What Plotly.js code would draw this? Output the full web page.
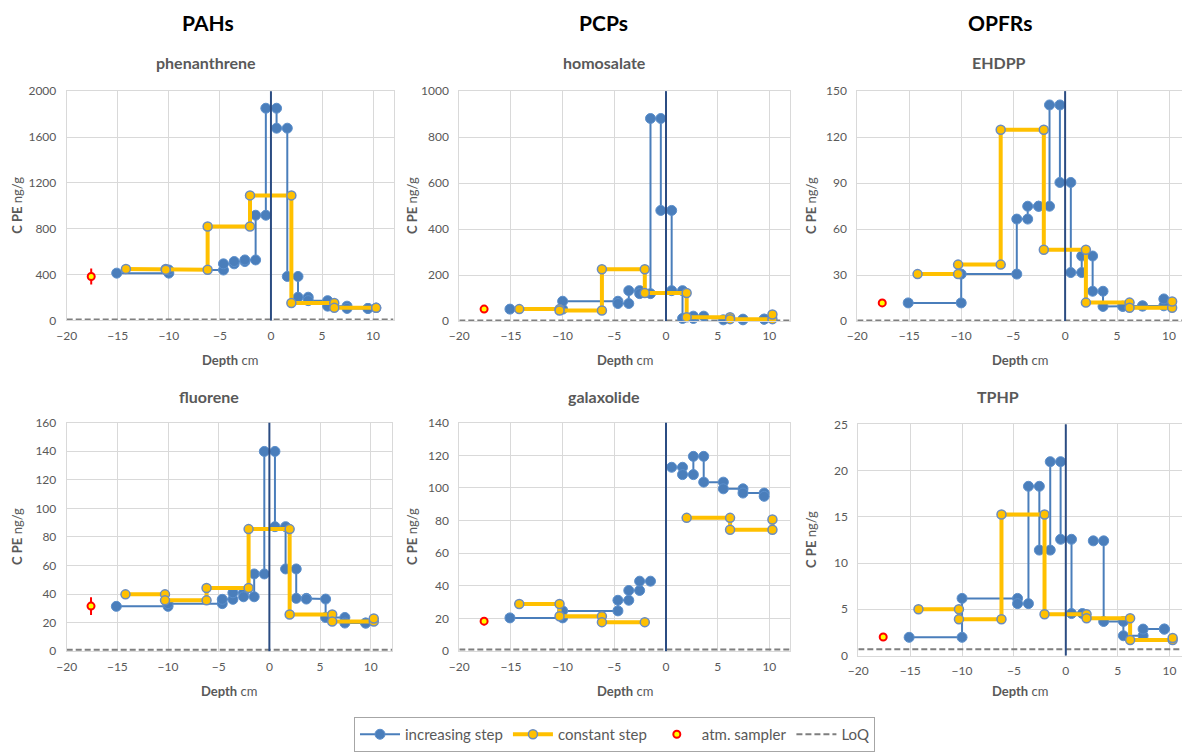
<!DOCTYPE html>
<html>
<head>
<meta charset="utf-8">
<script src="https://cdn.plot.ly/plotly-3.0.1.min.js"></script>
<style>html,body{margin:0;padding:0;background:#fff;}#chart{width:1182px;height:752px;}</style>
</head>
<body>
<div id="chart"></div>
<script>
// ---------------- DATA ----------------
const groupTitles = ["PAHs", "PCPs", "OPFRs"];
const panelTitles = ["phenanthrene", "homosalate", "EHDPP", "fluorene", "galaxolide", "TPHP"];

// depth boundaries of the sampled layers (cm)
const incEdges = [-15.1, -10, -4.65, -3.6, -2.55, -1.5, -0.5, 0.55, 1.6, 2.65, 3.65, 5.55, 7.45, 9.5];
const constEdges = [-14.2, -10.3, -6.2, -2.05, 2.0, 6.2, 10.3];

// increasing step: one value per layer, last entry = end point at deepest boundary
const phenInc = [413, 440, 494, 514, 528, 918, 1851, 1677, 384, 203, 173, 125, 105, 105];
const homoInc = [51.6, 86, 76, 132, 119, 881, 481, 132, 11, 21, -3, 5, 8, 8];
const ehdppInc = [11.8, 30.6, 66.5, 74.9, 74.9, 141, 90.4, 31.6, 42.4, 19.4, 9.5, 9.7, 9.9, 14.4];
const fluoInc = [31.4, 33.3, 36.3, 40.9, 38.1, 54.1, 139.9, 87.2, 57.6, 37.0, 36.5, 23.6, 19.7, 19.7];
const galaxInc = [20.4, 24.7, 31.2, 37.2, 42.9, null, null, 112.7, 108.2, 119.4, 103.6, 99.5, 96.9, 94.9];
const tphpInc = [1.97, 6.18, 5.61, 18.3, 11.4, 20.96, 12.57, 4.54, null, 12.4, 3.68, 2.14, 2.86, 2.86];

// constant step: one value per layer, last entry = end point
const phenConst = [450, 442, 820, 1091, 153, 110, 110];
const homoConst = [51.6, 46, 225, 122, 16, 8, 28];
const ehdppConst = [30.6, 36.8, 124.8, 46.5, 12.0, 8.6, 12.7];
const fluoConst = [39.8, 35.6, 44.2, 85.5, 25.7, 20.8, 22.9];
const galaxConst = [28.9, 21.4, 17.8, null, 81.7, 74.4, 80.7];
const tphpConst = [5.0, 3.93, 15.25, 4.46, 4.04, 1.68, 1.9];

// atmospheric sampler
const atmDepth = -17.6;
const atmValues = [384, 51.6, 11.8, 31.6, 18.4, 2.0];
const atmErrors = [70, 0, 0, 6.2, 2.5, 0];

// limit of quantification
const loqValues = [8, 2, 0.3, 1, 1, 0.68];

// sediment-water interface
const interfaceDepth = 0;

const xTicks = [-20, -15, -10, -5, 0, 5, 10];

// ---------------- LAYOUT SETTINGS ----------------
const W = 1182, H = 752;
const incSeries = [phenInc, homoInc, ehdppInc, fluoInc, galaxInc, tphpInc];
const constSeries = [phenConst, homoConst, ehdppConst, fluoConst, galaxConst, tphpConst];
const yRanges = [[0, 2000], [0, 1000], [0, 150], [0, 160], [0, 140], [0, 25]];
const yDticks = [400, 200, 30, 20, 20, 5];
const xRanges = [[-20, 12], [-20, 12], [-20, 11.25], [-20, 12.1], [-20, 12], [-20, 11.2]];
// plot-area pixel boxes [left, right, top, bottom]
const boxes = [
  [66.7, 393.5, 92, 323.5], [459.3, 790, 92, 324], [857.3, 1182, 92, 324],
  [66.7, 392, 426.7, 657.3], [459.3, 790, 426.7, 657.3], [858.3, 1182, 428.3, 661.7]
];
const titleX = [206, 604, 999, 209, 604, 998];
const titleY = [63, 63, 63, 400, 400, 400];
const ytitleX = [17, 412, 811, 17, 412, 811];
const groupX = [208, 603, 1000];

function steps(edges, vals) {
  const xs = [], ys = [];
  const n = edges.length - 1;
  for (let i = 0; i < n; i++) {
    const v = vals[i];
    if (v === null) { xs.push(edges[i]); ys.push(null); continue; }
    xs.push(edges[i], edges[i + 1]); ys.push(v, v);
  }
  xs.push(edges[n]); ys.push(vals[n]);
  return {x: xs, y: ys};
}

const FONT = "Lato, Carlito, 'Open Sans', sans-serif";
const BLUE = "#4A7EBB", YEL = "#FFC000";
const traces = [];
const layout = {
  width: W, height: H,
  margin: {l: 0, r: 0, t: 0, b: 0},
  paper_bgcolor: "#fff", plot_bgcolor: "#fff",
  font: {family: FONT, size: 12, color: "#595959"},
  showlegend: true,
  legend: {
    orientation: "h", x: 354 / W, xanchor: "left", y: 1 - 724 / H, yanchor: "top",
    bordercolor: "#A6A6A6", borderwidth: 1, bgcolor: "#fff",
    font: {family: FONT, size: 15, color: "#595959"}, itemwidth: 40,
    traceorder: "normal"
  },
  annotations: [], shapes: []
};

for (let p = 0; p < 6; p++) {
  const ax = p === 0 ? "" : String(p + 1);
  const xa = "x" + ax, ya = "y" + ax;
  const b = boxes[p];
  layout["xaxis" + ax] = {
    domain: [b[0] / W, b[1] / W], range: xRanges[p], anchor: ya,
    tickvals: xTicks, showgrid: true, gridcolor: "#D9D9D9", gridwidth: 1,
    showline: true, mirror: true, linecolor: "#D9D9D9", linewidth: 1,
    zeroline: false, ticks: "", ticklabelstandoff: 4,
    tickfont: {family: FONT, size: 12, color: "#595959"}, fixedrange: true
  };
  layout["yaxis" + ax] = {
    domain: [1 - b[3] / H, 1 - b[2] / H], range: yRanges[p], anchor: xa,
    dtick: yDticks[p], tick0: 0, showgrid: true, gridcolor: "#D9D9D9", gridwidth: 1,
    showline: true, mirror: true, linecolor: "#D9D9D9", linewidth: 1,
    zeroline: false, ticks: "", ticklabelstandoff: 7,
    tickfont: {family: FONT, size: 12, color: "#595959"}, fixedrange: true
  };

  const first = p === 0;
  // LoQ
  traces.push({
    type: "scatter", mode: "lines", name: "LoQ", legendrank: 4,
    x: [xRanges[p][0], xRanges[p][1]], y: [loqValues[p], loqValues[p]],
    xaxis: xa, yaxis: ya, showlegend: first, legendgroup: "loq",
    line: {color: "#7F7F7F", width: 2, dash: "6px,3px"}, hoverinfo: "skip"
  });
  // increasing step
  const inc = steps(incEdges, incSeries[p]);
  traces.push({
    type: "scatter", mode: "lines+markers", name: "increasing step", legendrank: 1,
    x: inc.x, y: inc.y, xaxis: xa, yaxis: ya, showlegend: first, legendgroup: "inc",
    connectgaps: false, cliponaxis: false,
    line: {color: BLUE, width: 2},
    marker: {color: BLUE, size: 10, line: {color: "#5B8FCC", width: 1}}
  });
  // constant step
  const cst = steps(constEdges, constSeries[p]);
  traces.push({
    type: "scatter", mode: "lines+markers", name: "constant step", legendrank: 2,
    x: cst.x, y: cst.y, xaxis: xa, yaxis: ya, showlegend: first, legendgroup: "cst",
    connectgaps: false, cliponaxis: false,
    line: {color: YEL, width: 4},
    marker: {color: YEL, size: 9, line: {color: "#6A8CBF", width: 1.5}}
  });
  // atm sampler
  traces.push({
    type: "scatter", mode: "markers", name: "atm. sampler", legendrank: 3,
    x: [atmDepth], y: [atmValues[p]], xaxis: xa, yaxis: ya, showlegend: first, legendgroup: "atm",
    cliponaxis: false,
    marker: {color: "#FFFF00", size: 7, line: {color: "#FF0000", width: 2}},
    error_y: {type: "data", array: [atmErrors[p]], visible: atmErrors[p] > 0,
              color: "#FF0000", thickness: 2, width: 0}
  });

  // sediment-water interface line
  layout.shapes.push({
    type: "line", xref: xa, yref: ya + " domain", x0: interfaceDepth, x1: interfaceDepth, y0: 0, y1: 1,
    line: {color: "#2B4C82", width: 2}, layer: "above"
  });

  // subplot title
  layout.annotations.push({
    text: "<b>" + panelTitles[p] + "</b>", xref: "paper", yref: "paper",
    x: titleX[p] / W, y: 1 - titleY[p] / H, xanchor: "center", yanchor: "middle",
    showarrow: false, font: {family: FONT, size: 16, color: "#595959"}
  });
  // x axis title
  layout.annotations.push({
    text: "<b>Depth</b> cm", xref: "paper", yref: "paper",
    x: ((b[0] + b[1]) / 2) / W, y: 1 - (p < 3 ? 363 : 697) / H, xanchor: "center", yanchor: "middle",
    showarrow: false, font: {family: FONT, size: 13, color: "#595959"}
  });
  // y axis title
  layout.annotations.push({
    text: "<b>C PE</b> ng/g", xref: "paper", yref: "paper", textangle: -90,
    x: ytitleX[p] / W, y: 1 - ((b[2] + b[3]) / 2) / H, xanchor: "center", yanchor: "middle",
    showarrow: false, font: {family: FONT, size: 13, color: "#595959"}
  });
}

for (let g = 0; g < 3; g++) {
  layout.annotations.push({
    text: "<b>" + groupTitles[g] + "</b>", xref: "paper", yref: "paper",
    x: groupX[g] / W, y: 1 - 23 / H, xanchor: "center", yanchor: "middle",
    showarrow: false, font: {family: FONT, size: 21, color: "#000000"}
  });
}

Plotly.newPlot("chart", traces, layout, {staticPlot: true, displayModeBar: false});
</script>
</body>
</html>
